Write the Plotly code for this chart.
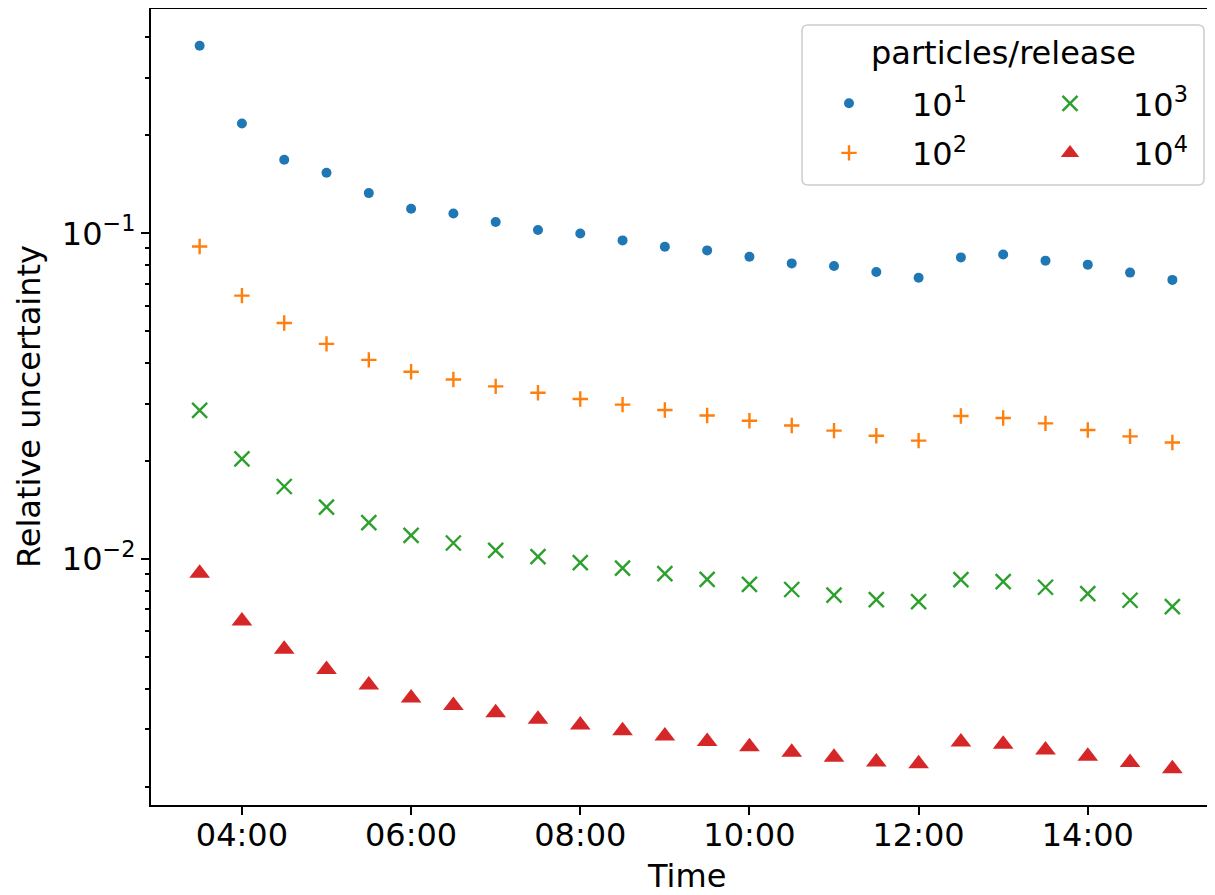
import plotly.graph_objects as go
from datetime import datetime

times = ["03:30", "04:00", "04:30", "05:00", "05:30", "06:00", "06:30", "07:00",
         "07:30", "08:00", "08:30", "09:00", "09:30", "10:00", "10:30", "11:00",
         "11:30", "12:00", "12:30", "13:00", "13:30", "14:00", "14:30", "15:00"]

u_1e1 = [0.3773, 0.2175, 0.1683, 0.1536, 0.1330, 0.1191, 0.1152, 0.1084,
         0.1024, 0.1000, 0.0952, 0.0910, 0.0887, 0.0848, 0.0809, 0.0794,
         0.0761, 0.0731, 0.0844, 0.0862, 0.0825, 0.0802, 0.0758, 0.0720]
u_1e2 = [0.0912, 0.0644, 0.0531, 0.0458, 0.0409, 0.0376, 0.0356, 0.0339,
         0.0324, 0.0310, 0.0298, 0.0287, 0.0276, 0.0266, 0.0257, 0.0248,
         0.0239, 0.0231, 0.0275, 0.0271, 0.0261, 0.0249, 0.0238, 0.0228]
u_1e3 = [0.0286, 0.0203, 0.0167, 0.01444, 0.01293, 0.01182, 0.01120, 0.01063,
         0.01017, 0.00975, 0.00937, 0.00902, 0.00866, 0.00836, 0.00806, 0.00775,
         0.00750, 0.00740, 0.00864, 0.00852, 0.00819, 0.00783, 0.00747, 0.00714]
u_1e4 = [0.00904, 0.00645, 0.00528, 0.00458, 0.00410, 0.00374, 0.00355, 0.00337,
         0.00322, 0.00309, 0.00297, 0.00286, 0.00275, 0.00265, 0.00255, 0.00246,
         0.00238, 0.00235, 0.00274, 0.00270, 0.00259, 0.00248, 0.00237, 0.00227]

series_names = ["10<sup>1</sup>", "10<sup>2</sup>", "10<sup>3</sup>", "10<sup>4</sup>"]
legend_title = "particles/release"
x_title = "Time"
y_title = "Relative uncertainty"
y_major_vals = [0.01, 0.1]
y_major_text = ["10<sup>\u22122</sup>", "10<sup>\u22121</sup>"]

day = "2000-01-01 "
x = [datetime.strptime(day + t, "%Y-%m-%d %H:%M") for t in times]

FONT = "DejaVu Sans"
colors = ["#1f77b4", "#ff7f0e", "#2ca02c", "#d62728"]

# The page body has an 8px margin, so the figure starts at page pixel (8, 8).
OFF = 8
# plot area in page pixels: left 151, right 1221 (cropped by window), top 8, bottom 805
W, H = 1221 - OFF, 887
L, R, T, B = 151 - OFF, 0, 8 - OFF + 1, 887 - (805 - OFF)
PW, PH = W - L - R, H - T - B


def px(xp):
    """page pixel x -> paper x"""
    return (xp - OFF - L) / PW


def py(yp):
    """page pixel y -> paper y"""
    return 1 - (yp - OFF - T) / PH


fig = go.Figure()
fig.add_trace(go.Scatter(x=x, y=u_1e1, mode="markers", name=series_names[0],
                         legend="legend", legendgroup="a",
                         marker=dict(symbol="circle", size=10, color=colors[0])))
fig.add_trace(go.Scatter(x=x, y=u_1e2, mode="markers", name=series_names[1],
                         legend="legend", legendgroup="b",
                         marker=dict(symbol="cross-thin", size=11, color=colors[1],
                                     line=dict(color=colors[1], width=2.4))))
fig.add_trace(go.Scatter(x=x, y=u_1e3, mode="markers", name=series_names[2],
                         legend="legend2", legendgroup="c",
                         marker=dict(symbol="x-thin", size=15, color=colors[2],
                                     line=dict(color=colors[2], width=2.4))))
fig.add_trace(go.Scatter(x=x, y=u_1e4, mode="markers", name=series_names[3],
                         legend="legend2", legendgroup="d",
                         marker=dict(symbol="triangle-up", size=18, color=colors[3])))

minor_vals = [m * 10.0 ** e for e in (-3, -2, -1) for m in range(2, 10)]

leg_common = dict(
    orientation="v", itemwidth=116, tracegroupgap=5,
    yanchor="top", xanchor="left",
    bgcolor="rgba(0,0,0,0)", borderwidth=0,
    font=dict(family=FONT, size=32, color="black"),
    traceorder="grouped",
)

# legend frame (rounded rectangle) in paper coordinates
x0, x1, y0, y1 = px(802), px(1204), py(185), py(25)
rx, ry = 6 / PW, 6 / PH
frame_path = (f"M{x0+rx},{y1} L{x1-rx},{y1} Q{x1},{y1} {x1},{y1-ry} "
              f"L{x1},{y0+ry} Q{x1},{y0} {x1-rx},{y0} L{x0+rx},{y0} "
              f"Q{x0},{y0} {x0},{y0+ry} L{x0},{y1-ry} Q{x0},{y1} {x0+rx},{y1} Z")

fig.update_layout(
    width=W, height=H,
    margin=dict(l=L, r=R, t=T, b=B),
    paper_bgcolor="white", plot_bgcolor="white",
    font=dict(family=FONT, size=32, color="black"),
    showlegend=True,
    legend=dict(x=px(786), y=py(76), **leg_common),
    legend2=dict(x=px(1007), y=py(76), **leg_common),
    shapes=[dict(type="path", xref="paper", yref="paper", path=frame_path,
                 line=dict(color="#cccccc", width=1.5),
                 fillcolor="rgba(255,255,255,0.8)", layer="above")],
    annotations=[
        dict(text=legend_title, xref="paper", yref="paper", x=px(1003), y=py(53),
             xanchor="center", yanchor="middle", showarrow=False,
             font=dict(family=FONT, size=32, color="black")),
        dict(text=x_title, xref="paper", yref="paper", x=px(686), y=py(876),
             xanchor="center", yanchor="middle", showarrow=False,
             font=dict(family=FONT, size=32, color="black")),
        dict(text=y_title, xref="paper", yref="paper", x=px(29), y=0.5,
             xanchor="center", yanchor="middle", showarrow=False, textangle=-90,
             font=dict(family=FONT, size=32, color="black")),
    ],
    xaxis=dict(
        type="date", automargin=False,
        range=["2000-01-01 02:55:30", "2000-01-01 15:34:30"],
        tick0="2000-01-01 04:00", dtick=2 * 3600 * 1000, tickformat="%H:%M",
        showgrid=False, zeroline=False,
        showline=True, linecolor="black", linewidth=2, mirror=True,
        ticks="outside", ticklen=8, tickwidth=2, tickcolor="black",
        ticklabelstandoff=-7,
        tickfont=dict(family=FONT, size=32, color="black"),
    ),
    yaxis=dict(
        type="log", automargin=False,
        range=[-2.7555, -0.3107],
        tickmode="array", tickvals=y_major_vals, ticktext=y_major_text,
        showgrid=False, zeroline=False,
        showline=True, linecolor="black", linewidth=2, mirror=False,
        ticks="outside", ticklen=8, tickwidth=2, tickcolor="black",
        ticklabelstandoff=-1,
        tickfont=dict(family=FONT, size=32, color="black"),
        minor=dict(tickmode="array", tickvals=minor_vals, ticks="outside",
                   ticklen=4.5, tickwidth=1.5, tickcolor="black", showgrid=False),
    ),
)

fig.write_html("out.html")
